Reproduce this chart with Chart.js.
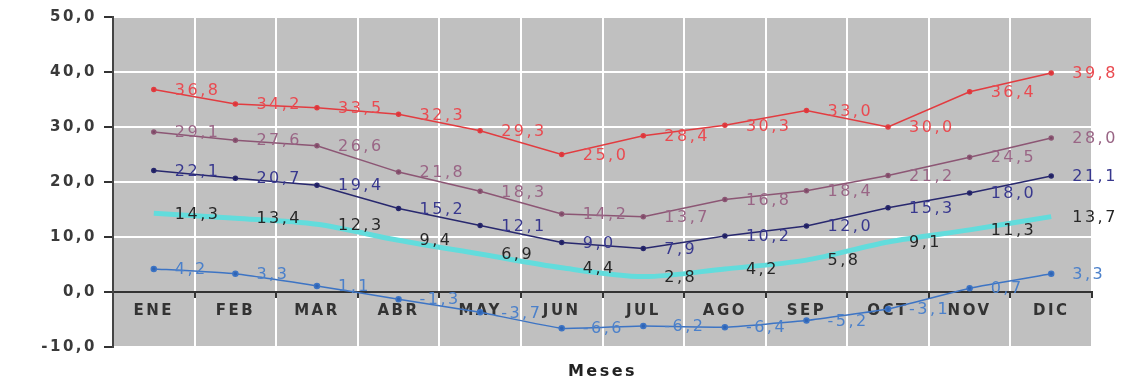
<!DOCTYPE html>
<html>
<head>
<meta charset="utf-8">
<title>Temperaturas por mes</title>
<script src="https://cdn.jsdelivr.net/npm/chart.js@4"></script>
<style>
  html, body { margin: 0; padding: 0; background: #fff; }
  #wrap { width: 1131px; height: 383px; }
</style>
</head>
<body>
<div id="wrap"><canvas id="tempChart"></canvas></div>
<script>
// months
const months = ['ENE', 'FEB', 'MAR', 'ABR', 'MAY', 'JUN', 'JUL', 'AGO', 'SEP', 'OCT', 'NOV', 'DIC'];

// series
const maxAbs = [36.8, 34.2, 33.5, 32.3, 29.3, 25.0, 28.4, 30.3, 33.0, 30.0, 36.4, 39.8];
const maxMedia = [29.1, 27.6, 26.6, 21.8, 18.3, 14.2, 13.7, 16.8, 18.4, 21.2, 24.5, 28.0];
const media = [22.1, 20.7, 19.4, 15.2, 12.1, 9.0, 7.9, 10.2, 12.0, 15.3, 18.0, 21.1];
const minMedia = [14.3, 13.4, 12.3, 9.4, 6.9, 4.4, 2.8, 4.2, 5.8, 9.1, 11.3, 13.7];
const minAbs = [4.2, 3.3, 1.1, -1.3, -3.7, -6.6, -6.2, -6.4, -5.2, -3.1, 0.7, 3.3];

// y axis
const yMin = -10;
const yMax = 50;
const yStep = 10;

const xTitle = 'Meses';
const fontFamily = '"DejaVu Sans", Verdana, sans-serif';

function fmt(v) {
    return v.toFixed(1).replace('.', ',');
}

// gray plot background + letter spacing for axis text
const plotBackground = {
    id: 'plotBackground',
    beforeDraw(chart) {
        const { ctx, chartArea } = chart;
        ctx.save();
        ctx.fillStyle = '#c0c0c0';
        ctx.fillRect(chartArea.left, chartArea.top, chartArea.right - chartArea.left, chartArea.bottom - chartArea.top);
        ctx.restore();
        ctx.letterSpacing = '2.5px';
    },
    afterDraw(chart) {
        const { ctx, chartArea } = chart;
        ctx.save();
        ctx.font = 'bold 16px ' + fontFamily;
        ctx.letterSpacing = '2.5px';
        ctx.fillStyle = '#222';
        ctx.textAlign = 'center';
        ctx.textBaseline = 'middle';
        ctx.fillText(xTitle, (chartArea.left + chartArea.right) / 2, 372);
        ctx.restore();
    }
};

// value labels to the right of each point
const pointLabels = {
    id: 'pointLabels',
    afterDatasetsDraw(chart) {
        const { ctx } = chart;
        ctx.save();
        ctx.font = '16px ' + fontFamily;
        ctx.letterSpacing = '2.5px';
        ctx.textAlign = 'left';
        ctx.textBaseline = 'middle';
        chart.data.datasets.forEach((ds, i) => {
            const meta = chart.getDatasetMeta(i);
            ctx.fillStyle = ds.labelColor;
            meta.data.forEach((pt, j) => {
                ctx.fillText(fmt(ds.data[j]), pt.x + 21, pt.y + 1);
            });
        });
        ctx.restore();
    }
};

new Chart(document.getElementById('tempChart'), {
    type: 'line',
    data: {
        labels: months,
        datasets: [
            {
                label: 'Mínima media',
                data: minMedia,
                borderColor: '#62dcdc',
                labelColor: '#262626',
                borderWidth: 5,
                pointRadius: 0,
                tension: 0.3
            },
            {
                label: 'Máxima absoluta',
                data: maxAbs,
                borderColor: '#e23c40',
                backgroundColor: '#d8343a',
                labelColor: '#ea4a50',
                borderWidth: 1.5,
                pointRadius: 2,
                tension: 0
            },
            {
                label: 'Máxima media',
                data: maxMedia,
                borderColor: '#8c5674',
                backgroundColor: '#7a4864',
                labelColor: '#996585',
                borderWidth: 1.5,
                pointRadius: 2,
                tension: 0
            },
            {
                label: 'Media',
                data: media,
                borderColor: '#28286e',
                backgroundColor: '#1e1e5a',
                labelColor: '#38388e',
                borderWidth: 1.5,
                pointRadius: 2,
                tension: 0
            },
            {
                label: 'Mínima absoluta',
                data: minAbs,
                borderColor: '#3d74c4',
                backgroundColor: '#2f64b4',
                labelColor: '#4b80ca',
                borderWidth: 1.5,
                pointRadius: 2.5,
                tension: 0.1
            }
        ]
    },
    options: {
        responsive: true,
        maintainAspectRatio: false,
        animation: false,
        layout: {
            padding: { top: 17, right: 39, bottom: 36, left: 0 }
        },
        plugins: {
            legend: { display: false },
            tooltip: { enabled: false }
        },
        scales: {
            x: {
                position: { y: 0 },
                offset: true,
                grid: {
                    offset: true,
                    color: '#ffffff',
                    lineWidth: 2,
                    tickColor: '#333',
                    tickLength: 5,
                    tickWidth: 2
                },
                border: { color: '#333', width: 2 },
                ticks: {
                    color: '#333',
                    padding: 5,
                    font: { family: fontFamily, size: 15, weight: 'bold' }
                }
            },
            y: {
                min: yMin,
                max: yMax,
                afterFit(scale) {
                    scale.width = 113;
                },
                grid: {
                    color: '#ffffff',
                    lineWidth: 2,
                    tickColor: '#333',
                    tickLength: 9,
                    tickWidth: 2
                },
                border: { color: '#444', width: 2 },
                ticks: {
                    stepSize: yStep,
                    color: '#3a3a3a',
                    padding: 7,
                    font: { family: fontFamily, size: 15, weight: 'bold' },
                    callback: value => fmt(value)
                }
            }
        }
    },
    plugins: [plotBackground, pointLabels]
});
</script>
</body>
</html>
